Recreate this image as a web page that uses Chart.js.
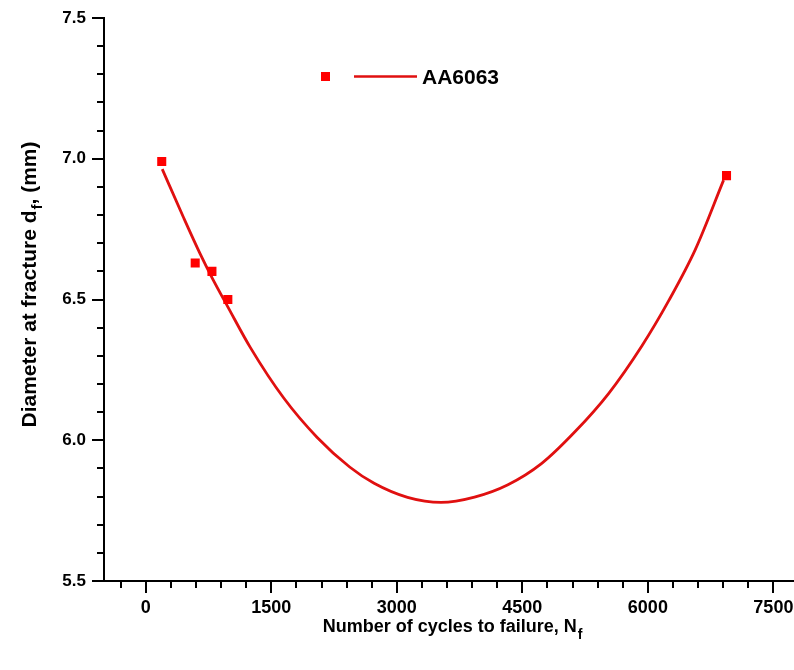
<!DOCTYPE html>
<html>
<head>
<meta charset="utf-8">
<script src="https://cdn.jsdelivr.net/npm/chart.js@4.4.1/dist/chart.umd.min.js"></script>
<style>
  html,body{margin:0;padding:0;background:#fff;overflow:hidden}
  #wrap{width:794px;height:670px}
</style>
</head>
<body>
<div id="wrap"><canvas id="c" width="794" height="670"></canvas></div>
<script>
// measured points
const cycles = [190, 590, 790, 980, 6940];
const diameters = [6.99, 6.63, 6.60, 6.50, 6.94];

// fitted curve, read along its length
const fitCycles = [196, 448, 648, 792, 980, 1248, 1648, 2048, 2436, 2728, 3128, 3528, 3928, 4328, 4728, 5128, 5528, 5928, 6248, 6568, 6905];
const fitDiameters = [6.963, 6.793, 6.663, 6.577, 6.474, 6.33, 6.15, 6.01, 5.905, 5.847, 5.797, 5.779, 5.798, 5.842, 5.917, 6.03, 6.165, 6.335, 6.495, 6.678, 6.924];

// axis labels
const xLabelValues = [0, 1500, 3000, 4500, 6000, 7500];
const yLabelValues = [5.5, 6.0, 6.5, 7.0, 7.5];
const xMinorStep = 300;
const yMinorStep = 0.1;

const seriesName = 'AA6063';
const xTitle = 'Number of cycles to failure, N';
const xTitleSub = 'f';
const yTitle = 'Diameter at fracture d';
const yTitleSub = 'f';
const yTitleTail = ', (mm)';

const RED = '#ff0000';
const LINE_RED = '#e01010';
const FONT = '"Liberation Sans", Arial, sans-serif';

const near = (a, b) => Math.abs(a - b) < 1e-6;
const isLabel = (list, v) => list.some(l => near(l, v));

function stepTicks(lo, hi, step){
  const out = [];
  for(let i = Math.ceil(lo / step - 1e-9); i * step <= hi + 1e-9; i++){
    out.push({value: +(i * step).toFixed(6)});
  }
  return out;
}

// tick marks (long at labels, short between), tick labels, axis titles, legend
const decorations = {
  id: 'decorations',
  afterDraw(chart){
    const {ctx, chartArea: a, scales: {x, y}} = chart;
    ctx.save();
    ctx.strokeStyle = '#000';
    ctx.lineWidth = 2;
    ctx.beginPath();
    // bottom axis runs on to the edge of the canvas
    ctx.moveTo(a.right - 1, a.bottom); ctx.lineTo(chart.width, a.bottom);
    x.ticks.forEach(t => {
      const px = Math.round(x.getPixelForValue(t.value));
      const len = isLabel(xLabelValues, t.value) ? 12 : 7;
      ctx.moveTo(px, a.bottom); ctx.lineTo(px, a.bottom + len);
    });
    y.ticks.forEach(t => {
      const py = Math.round(y.getPixelForValue(t.value));
      const len = isLabel(yLabelValues, t.value) ? 12 : 7;
      ctx.moveTo(a.left, py); ctx.lineTo(a.left - len, py);
    });
    ctx.stroke();

    ctx.fillStyle = '#000';
    ctx.font = 'bold 18px ' + FONT;
    ctx.textAlign = 'center';
    ctx.textBaseline = 'middle';
    xLabelValues.forEach(v => ctx.fillText(String(v), x.getPixelForValue(v), a.bottom + 27));
    ctx.font = 'bold 17px ' + FONT;
    ctx.textAlign = 'right';
    yLabelValues.forEach(v => ctx.fillText(v.toFixed(1), a.left - 18, y.getPixelForValue(v)));

    // x title with subscript
    ctx.textBaseline = 'alphabetic';
    ctx.textAlign = 'left';
    ctx.font = 'bold 18px ' + FONT;
    const w1 = ctx.measureText(xTitle).width;
    ctx.font = 'bold 14px ' + FONT;
    const w2 = ctx.measureText(xTitleSub).width;
    const sx = 452 - (w1 + w2) / 2;
    ctx.font = 'bold 18px ' + FONT;
    ctx.fillText(xTitle, sx, 632);
    ctx.font = 'bold 14px ' + FONT;
    ctx.fillText(xTitleSub, sx + w1 + 1, 639);

    // y title, rotated
    ctx.save();
    ctx.translate(36, 285);
    ctx.rotate(-Math.PI / 2);
    ctx.font = 'bold 21px ' + FONT;
    const t1 = ctx.measureText(yTitle).width;
    const t3 = ctx.measureText(yTitleTail).width;
    ctx.font = 'bold 15px ' + FONT;
    const t2 = ctx.measureText(yTitleSub).width;
    const ty = -(t1 + t2 + t3) / 2;
    ctx.font = 'bold 21px ' + FONT;
    ctx.fillText(yTitle, ty, 0);
    ctx.font = 'bold 15px ' + FONT;
    ctx.fillText(yTitleSub, ty + t1 + 1, 6);
    ctx.font = 'bold 21px ' + FONT;
    ctx.fillText(yTitleTail, ty + t1 + t2 + 1, 0);
    ctx.restore();

    // legend: symbol, line, name
    ctx.fillStyle = RED;
    ctx.fillRect(321, 72, 9, 9);
    ctx.strokeStyle = LINE_RED;
    ctx.lineWidth = 2.6;
    ctx.beginPath();
    ctx.moveTo(354, 76.5); ctx.lineTo(417, 76.5);
    ctx.stroke();
    ctx.fillStyle = '#000';
    ctx.font = 'bold 21px ' + FONT;
    ctx.fillText(seriesName, 422, 84);
    ctx.restore();
  }
};

new Chart(document.getElementById('c'), {
  type: 'scatter',
  data: {
    datasets: [
      {
        label: seriesName + ' fit',
        data: fitCycles.map((v, i) => ({x: v, y: fitDiameters[i]})),
        showLine: true,
        borderColor: LINE_RED,
        borderWidth: 2.8,
        pointRadius: 0,
        cubicInterpolationMode: 'monotone',
        order: 2
      },
      {
        label: seriesName,
        data: cycles.map((v, i) => ({x: v, y: diameters[i]})),
        pointStyle: 'rect',
        pointRadius: 6.4,
        backgroundColor: RED,
        borderColor: RED,
        borderWidth: 0,
        order: 1
      }
    ]
  },
  options: {
    responsive: false,
    animation: false,
    layout: {padding: {top: 18, right: 0, bottom: 0, left: 0}},
    plugins: {legend: {display: false}, tooltip: {enabled: false}},
    scales: {
      x: {
        type: 'linear',
        min: -500,
        max: 7670,
        grid: {display: false, drawTicks: false},
        border: {display: true, color: '#000', width: 2},
        afterFit: s => { s.height = 89; },
        afterBuildTicks: s => { s.ticks = stepTicks(s.min, s.max, xMinorStep); },
        ticks: {display: false}
      },
      y: {
        min: 5.5,
        max: 7.5,
        grid: {display: false, drawTicks: false},
        border: {display: true, color: '#000', width: 2},
        afterFit: s => { s.width = 104; },
        afterBuildTicks: s => { s.ticks = stepTicks(s.min, s.max, yMinorStep); },
        ticks: {display: false}
      }
    }
  },
  plugins: [decorations]
});
</script>
</body>
</html>
